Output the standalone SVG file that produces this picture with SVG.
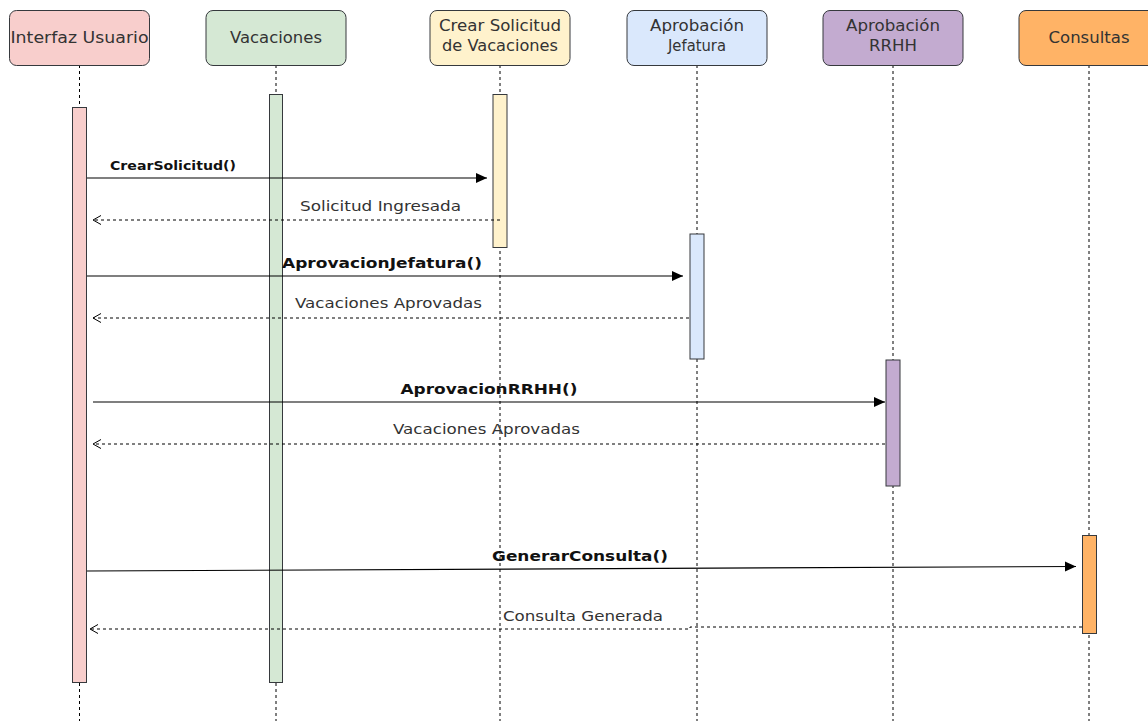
<svg xmlns="http://www.w3.org/2000/svg" width="1148" height="721" viewBox="0 0 1148 721">
<style>
.hdr{stroke:#36393d;stroke-width:1}
.life{stroke:#000;stroke-width:1;stroke-dasharray:3,3;fill:none}
.act{stroke:#36393d;stroke-width:1}
.t{font-family:"DejaVu Sans",Verdana,sans-serif;font-size:15px;fill:#333;text-anchor:middle}
.msg{stroke:#000;stroke-width:1.2;fill:none}
.ret{stroke:#000;stroke-width:1;stroke-dasharray:3,3;fill:none}
.lb{font-family:"DejaVu Sans",Verdana,sans-serif;font-size:14px;fill:#111;font-weight:bold;text-anchor:middle}
.lr{font-family:"DejaVu Sans",Verdana,sans-serif;font-size:14px;fill:#333;text-anchor:middle}
</style>
<defs>
<marker id="block" markerWidth="13" markerHeight="12" refX="12" refY="6" orient="auto" markerUnits="userSpaceOnUse">
<path d="M1,1 L12,6 L1,11 Z" fill="#000"/>
</marker>
<marker id="open" markerWidth="12" markerHeight="12" refX="11" refY="6" orient="auto" markerUnits="userSpaceOnUse">
<path d="M3,1.5 L11,6 L3,10.5" fill="none" stroke="#000" stroke-width="1"/>
</marker>
</defs>
<rect width="1148" height="721" fill="#fff"/>

<g id="lifelines">
<line class="life" x1="79.5" y1="65" x2="79.5" y2="721"/>
<line class="life" x1="276" y1="65" x2="276" y2="721"/>
<line class="life" x1="500" y1="65" x2="500" y2="721"/>
<line class="life" x1="697" y1="65" x2="697" y2="721"/>
<line class="life" x1="893" y1="65" x2="893" y2="721"/>
<line class="life" x1="1089" y1="65" x2="1089" y2="721"/>
</g>

<g id="interfaz-usuario">
<rect class="hdr" x="9.5" y="10.5" width="140" height="55" rx="7" fill="#f8cecc"/>
<text class="t" x="79.5" y="43" textLength="138" lengthAdjust="spacingAndGlyphs">Interfaz Usuario</text>
<rect class="act" x="72.5" y="107.5" width="14" height="575" fill="#f8cecc"/>
</g>
<g id="vacaciones">
<rect class="hdr" x="206" y="10.5" width="140" height="55" rx="7" fill="#d5e8d4"/>
<text class="t" x="276" y="43" textLength="92" lengthAdjust="spacingAndGlyphs">Vacaciones</text>
<rect class="act" x="269.5" y="94.5" width="13" height="588" fill="#d5e8d4"/>
</g>
<g id="crear-solicitud">
<rect class="hdr" x="430" y="10.5" width="140" height="55" rx="7" fill="#fff2cc"/>
<text class="t" x="500" y="31" textLength="122" lengthAdjust="spacingAndGlyphs">Crear Solicitud</text>
<text class="t" x="500" y="51" textLength="116" lengthAdjust="spacingAndGlyphs">de Vacaciones</text>
<rect class="act" x="493" y="94.5" width="14" height="153" fill="#fff2cc"/>
</g>
<g id="aprobacion-jefatura">
<rect class="hdr" x="627" y="10.5" width="140" height="55" rx="7" fill="#dae8fc"/>
<text class="t" x="697" y="31" textLength="94" lengthAdjust="spacingAndGlyphs">Aprobación</text>
<text class="t" x="697" y="51" textLength="58" lengthAdjust="spacingAndGlyphs">Jefatura</text>
<rect class="act" x="690" y="234" width="14" height="125" fill="#dae8fc"/>
</g>
<g id="aprobacion-rrhh">
<rect class="hdr" x="823" y="10.5" width="140" height="55" rx="7" fill="#c3abd0"/>
<text class="t" x="893" y="31" textLength="94" lengthAdjust="spacingAndGlyphs">Aprobación</text>
<text class="t" x="893" y="51" textLength="48" lengthAdjust="spacingAndGlyphs">RRHH</text>
<rect class="act" x="886" y="360" width="14" height="126" fill="#c3abd0"/>
</g>
<g id="consultas">
<rect class="hdr" x="1019" y="10.5" width="140" height="55" rx="7" fill="#ffb366"/>
<text class="t" x="1089" y="43" textLength="81" lengthAdjust="spacingAndGlyphs">Consultas</text>
<rect class="act" x="1082.5" y="535.5" width="14" height="98" fill="#ffb366"/>
</g>

<g id="connectors">
<line class="msg" x1="87" y1="178" x2="487" y2="178" marker-end="url(#block)"/>
<text class="lb" x="173" y="170" style="font-size:12px" textLength="126" lengthAdjust="spacingAndGlyphs">CrearSolicitud()</text>
<line class="ret" x1="500" y1="220" x2="93" y2="220" marker-end="url(#open)"/>
<text class="lr" x="380.5" y="211" textLength="161" lengthAdjust="spacingAndGlyphs">Solicitud Ingresada</text>

<line class="msg" x1="87" y1="276" x2="683" y2="276" marker-end="url(#block)"/>
<text class="lb" x="382" y="268" textLength="200" lengthAdjust="spacingAndGlyphs">AprovacionJefatura()</text>
<line class="ret" x1="689" y1="318" x2="93" y2="318" marker-end="url(#open)"/>
<text class="lr" x="388.5" y="308" textLength="187" lengthAdjust="spacingAndGlyphs">Vacaciones Aprovadas</text>

<line class="msg" x1="93" y1="402" x2="885" y2="402" marker-end="url(#block)"/>
<text class="lb" x="489" y="394" textLength="177" lengthAdjust="spacingAndGlyphs">AprovacionRRHH()</text>
<line class="ret" x1="885" y1="444" x2="93" y2="444" marker-end="url(#open)"/>
<text class="lr" x="486.5" y="434" textLength="187" lengthAdjust="spacingAndGlyphs">Vacaciones Aprovadas</text>

<line class="msg" x1="87" y1="571" x2="1076" y2="566.5" marker-end="url(#block)"/>
<text class="lb" x="580" y="561" textLength="176" lengthAdjust="spacingAndGlyphs">GenerarConsulta()</text>
<polyline class="ret" points="1082,627 690,627 690,629 90,629" marker-end="url(#open)"/>
<text class="lr" x="583" y="621" textLength="160" lengthAdjust="spacingAndGlyphs">Consulta Generada</text>
</g>
</svg>
